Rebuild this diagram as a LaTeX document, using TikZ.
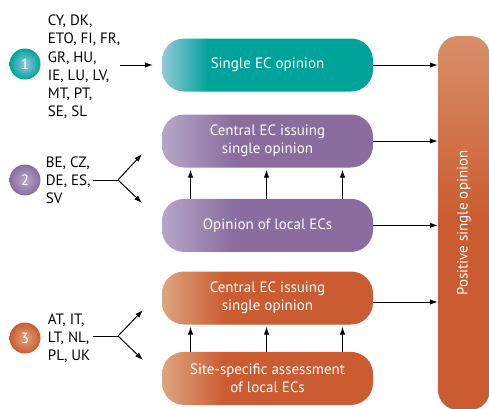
\documentclass[tikz,border=0pt]{standalone}
\usepackage{fontspec}
\setmainfont{PT Sans}
\usetikzlibrary{positioning,arrows.meta}

\definecolor{tealbase}{HTML}{00A39A}
\definecolor{teallight}{HTML}{92C9DB}
\definecolor{purplebase}{HTML}{8A6D9E}
\definecolor{purplelight}{HTML}{B6A7CA}
\definecolor{orangebase}{HTML}{CB5B30}
\definecolor{orangelight}{HTML}{DDA581}

\pgfdeclarehorizontalshading{tealbox}{100bp}{color(0bp)=(teallight); color(25bp)=(teallight); color(36bp)=(tealbase); color(100bp)=(tealbase)}
\pgfdeclarehorizontalshading{purplebox}{100bp}{color(0bp)=(purplelight); color(25bp)=(purplelight); color(42bp)=(purplebase); color(100bp)=(purplebase)}
\pgfdeclarehorizontalshading{orangebox}{100bp}{color(0bp)=(orangelight); color(25bp)=(orangelight); color(40bp)=(orangebase); color(100bp)=(orangebase)}
\pgfdeclareverticalshading{orangecolumn}{100bp}{color(0bp)=(orangebase); color(50bp)=(orangebase); color(75bp)=(orangelight!70!orangebase); color(100bp)=(orangelight!70!orangebase)}

\begin{document}
\begin{tikzpicture}[x=1pt,y=-1pt,
    every node/.style={font=\fontsize{15}{18.2}\selectfont},
    stepbox/.style={rounded corners=22pt, minimum width=211pt, minimum height=53pt,
        text=white, align=center, inner sep=0pt},
    numball/.style={circle, minimum size=31pt, inner sep=0pt, text=white},
    countries/.style={align=left, inner sep=0pt},
    flow/.style={-{Latex[length=8pt,width=5.5pt]}, line width=1pt}]

\useasboundingbox (0,0) rectangle (489,408);

% Result column
\node[  shading=orangecolumn,
        rounded corners=20pt,
        minimum width=52pt, minimum height=374pt,
        label={[rotate=90,text=white]center:Positive single opinion}
    ] (column) at (464,223) {};

% Procedure boxes
\node[  stepbox,
        shading=tealbox
    ] (single) at (267.5,65) {Single EC opinion};
\node[  stepbox,
        shading=purplebox
    ] (central2) at (267.5,141) {Central EC issuing\\single opinion};
\node[  stepbox,
        shading=purplebox,
        below=31pt of central2
    ] (local2) {Opinion of local ECs};
\node[  stepbox,
        shading=orangebox
    ] (central3) at (267.5,298) {Central EC issuing\\single opinion};
\node[  stepbox,
        shading=orangebox,
        below=27pt of central3
    ] (local3) {Site-specific assessment\\of local ECs};

% Groups of countries
\node[  numball,
        shading=radial, inner color=teallight, outer color=tealbase
    ] (ball1) at (25,64) {1};
\node[  countries,
        right=7pt of ball1, yshift=-3pt
    ] (list1) {CY, DK,\\ETO, FI, FR,\\GR, HU,\\IE, LU, LV,\\MT, PT,\\SE, SL};
\node[  numball,
        shading=radial, inner color=purplelight, outer color=purplebase
    ] (ball2) at (25,180) {2};
\node[  countries,
        right=5pt of ball2
    ] (list2) {BE, CZ,\\DE, ES,\\SV};
\node[  numball,
        shading=radial, inner color=orangelight, outer color=orangebase
    ] (ball3) at (25,338) {3};
\node[  countries,
        right=7pt of ball3
    ] (list3) {AT, IT,\\LT, NL,\\PL, UK};

\coordinate (fork2) at (118,180);
\coordinate (fork3) at (118,336);

% Arrows
\draw[flow, shorten >=9pt] (single.west -| list1.east) -- (single.west);
\draw[line width=1pt] ([xshift=2pt]list2.east) -- (fork2);
\draw[flow] (fork2) -- ++(24,-26);
\draw[flow] (fork2) -- ++(24,23);
\draw[line width=1pt] (fork3 -| list3.east) ++(2,0) -- (fork3);
\draw[flow] (fork3) -- ++(25,-26);
\draw[flow] (fork3) -- ++(25,24);

\foreach \dx in {-77,-1,75}{
    \draw[flow, shorten >=2pt] ([xshift=\dx pt]local2.north) -- ([xshift=\dx pt]central2.south);
    \draw[flow, shorten >=2pt] ([xshift=\dx pt]local3.north) -- ([xshift=\dx pt]central3.south);
}

\draw[flow] (single.east) -- (single.east -| column.west);
\draw[flow] (central2.east) -- (central2.east -| column.west);
\draw[flow] (local2.east) -- (local2.east -| column.west);
\draw[flow] ([yshift=-4pt]central3.east) -- ([yshift=-4pt]central3.east -| column.west);

\end{tikzpicture}
\end{document}
